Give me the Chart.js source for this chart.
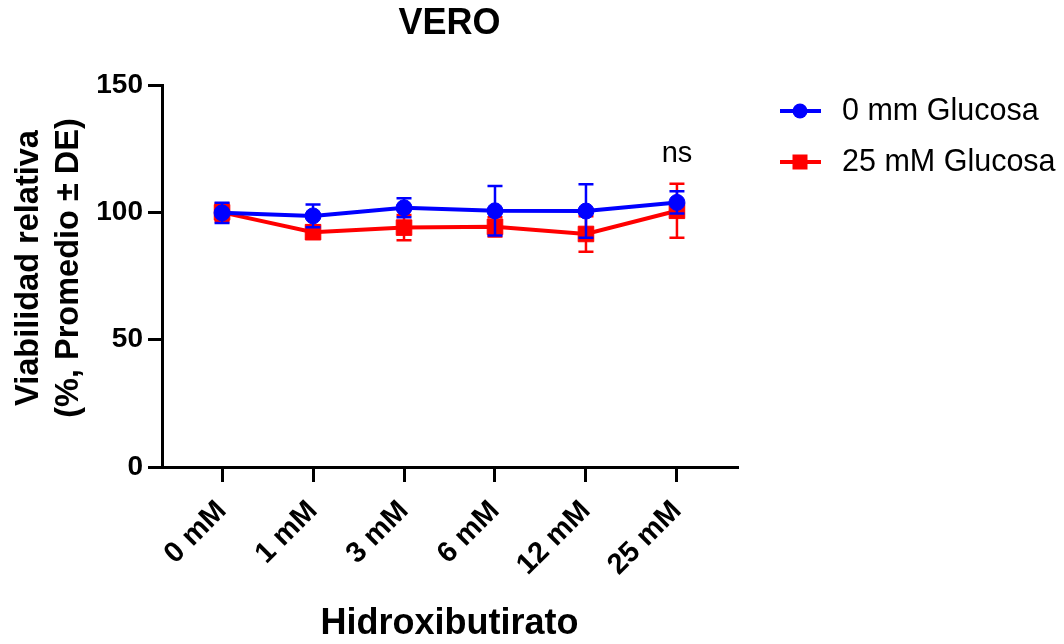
<!DOCTYPE html>
<html>
<head>
<meta charset="utf-8">
<script src="https://cdn.jsdelivr.net/npm/chart.js@4/dist/chart.umd.min.js"></script>
<style>
  html, body { margin: 0; padding: 0; background: #fff; }
  canvas { display: block; }
</style>
</head>
<body>
<canvas id="c" width="1064" height="644"></canvas>
<script>
const categories = ['0 mM', '1 mM', '3 mM', '6 mM', '12 mM', '25 mM'];
const glucosa0 = [99.8, 98.6, 101.8, 100.6, 100.5, 103.9];
const glucosa0SD = [4, 4.5, 3.7, 9.7, 10.5, 4.4];
const glucosa25 = [100, 92.2, 94, 94.3, 91.5, 100.6];
const glucosa25SD = [3.5, 2.5, 5, 3.8, 7, 10.6];
const yTicks = [0, 50, 100, 150];
const seriesNames = ['0 mm Glucosa', '25 mM Glucosa'];
const sdList = [glucosa0SD, glucosa25SD];

const FONT = "'Liberation Sans', Arial, Helvetica, sans-serif";

const errorBars = {
  id: 'errorBars',
  afterDatasetDraw(chart, args) {
    const ctx = chart.ctx;
    const ds = chart.data.datasets[args.index];
    const sd = sdList[args.index];
    const yS = chart.scales.y, xS = chart.scales.x;
    ctx.save();
    ctx.strokeStyle = ds.borderColor;
    ctx.lineWidth = 2.5;
    ds.data.forEach((p, i) => {
      const x = xS.getPixelForValue(p.x);
      const yt = yS.getPixelForValue(p.y + sd[i]);
      const yb = yS.getPixelForValue(p.y - sd[i]);
      ctx.beginPath();
      ctx.moveTo(x, yt); ctx.lineTo(x, yb);
      ctx.moveTo(x - 7.5, yt); ctx.lineTo(x + 7.5, yt);
      ctx.moveTo(x - 7.5, yb); ctx.lineTo(x + 7.5, yb);
      ctx.stroke();
    });
    ctx.restore();
  }
};

const overlays = {
  id: 'overlays',
  afterDraw(chart) {
    const ctx = chart.ctx;
    const area = chart.chartArea;
    const cx = (area.left + area.right) / 2;
    ctx.save();
    ctx.fillStyle = '#000';
    ctx.textAlign = 'center';
    ctx.textBaseline = 'middle';
    // Title
    ctx.font = 'bold 36px ' + FONT;
    ctx.fillText('VERO', cx, 24);
    // X axis title
    ctx.font = 'bold 36px ' + FONT;
    ctx.fillText('Hidroxibutirato', cx, 624);
    // Y axis title
    ctx.save();
    ctx.translate(0, 268);
    ctx.rotate(-Math.PI / 2);
    ctx.font = 'bold 32.5px ' + FONT;
    ctx.fillText('Viabilidad relativa', 0, 29);
    ctx.fillText('(%, Promedio \u00B1 DE)', 0, 69);
    ctx.restore();
    // ns annotation
    ctx.font = '29px ' + FONT;
    const xS = chart.scales.x;
    ctx.fillText('ns', xS.getPixelForValue(5), 154);
    // Legend
    ctx.textAlign = 'left';
    ctx.font = '30.5px ' + FONT;
    const rows = [111, 162];
    chart.data.datasets.forEach((ds, i) => {
      const y = rows[i];
      ctx.strokeStyle = ds.borderColor;
      ctx.lineWidth = 4;
      ctx.beginPath(); ctx.moveTo(780, y); ctx.lineTo(821, y); ctx.stroke();
      ctx.fillStyle = ds.borderColor;
      if (ds.pointStyle === 'rect') {
        ctx.fillRect(800 - 7.5, y - 7.5, 15, 15);
      } else {
        ctx.beginPath(); ctx.arc(800, y, 7.5, 0, Math.PI * 2); ctx.fill();
      }
      ctx.fillStyle = '#000';
      ctx.fillText(seriesNames[i], 842, y + 1);
    });
    ctx.restore();
  }
};

const toPoints = arr => arr.map((v, i) => ({ x: i, y: v }));

new Chart(document.getElementById('c'), {
  type: 'line',
  data: {
    datasets: [
      {
        label: seriesNames[0],
        data: toPoints(glucosa0),
        borderColor: '#0000ff',
        backgroundColor: '#0000ff',
        borderWidth: 4,
        pointStyle: 'circle',
        pointRadius: 8,
        pointBorderWidth: 1,
        pointBackgroundColor: '#0000ff',
        pointBorderColor: '#0000ff',
        tension: 0
      },
      {
        label: seriesNames[1],
        data: toPoints(glucosa25),
        borderColor: '#ff0000',
        backgroundColor: '#ff0000',
        borderWidth: 4,
        pointStyle: 'rect',
        pointRadius: 11,
        pointBorderWidth: 1,
        pointBackgroundColor: '#ff0000',
        pointBorderColor: '#ff0000',
        tension: 0
      }
    ]
  },
  options: {
    responsive: false,
    animation: false,
    devicePixelRatio: 1,
    layout: { padding: { left: 0, top: 85, right: 327, bottom: 0 } },
    plugins: {
      legend: { display: false },
      title: { display: false },
      tooltip: { enabled: false }
    },
    scales: {
      x: {
        type: 'linear',
        min: -0.66,
        max: 5.66,
        afterBuildTicks: s => { s.ticks = categories.map((c, i) => ({ value: i })); },
        afterFit: s => { s.height = 177; },
        ticks: {
          autoSkip: false,
          minRotation: 45,
          maxRotation: 45,
          padding: 12,
          color: '#000',
          font: { family: FONT, size: 29, weight: 'bold' },
          callback: v => categories[v]
        },
        grid: { drawOnChartArea: false, drawTicks: true, tickLength: 15, color: '#000', lineWidth: 3 },
        border: { display: true, color: '#000', width: 3 }
      },
      y: {
        min: 0,
        max: 150,
        afterBuildTicks: s => { s.ticks = yTicks.map(v => ({ value: v })); },
        afterFit: s => { s.width = 162; },
        ticks: {
          padding: 5,
          color: '#000',
          font: { family: FONT, size: 28, weight: 'bold' }
        },
        grid: { drawOnChartArea: false, drawTicks: true, tickLength: 14, color: '#000', lineWidth: 3 },
        border: { display: true, color: '#000', width: 3 }
      }
    }
  },
  plugins: [errorBars, overlays]
});
</script>
</body>
</html>
